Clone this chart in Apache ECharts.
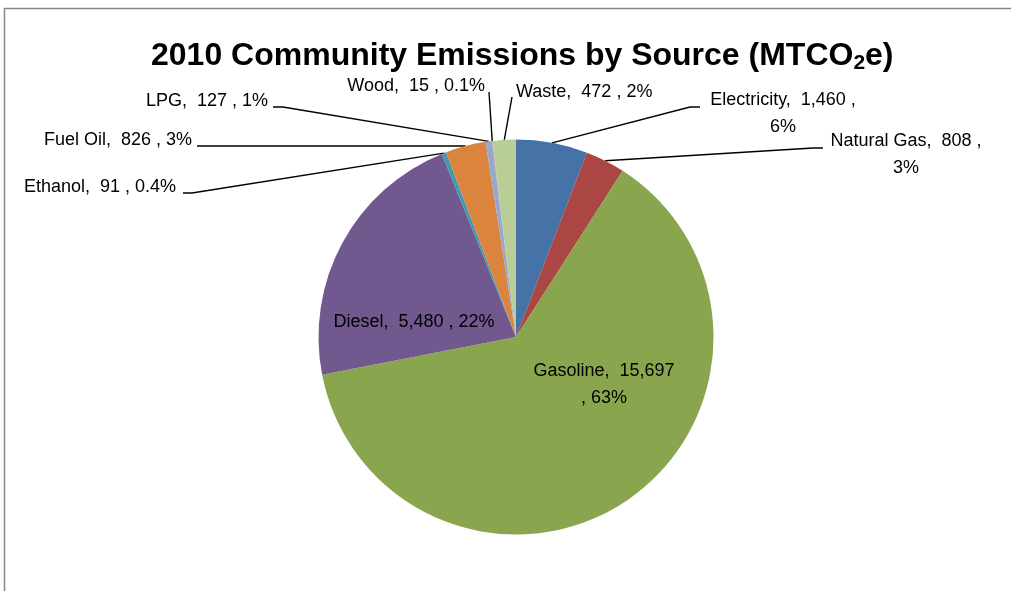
<!DOCTYPE html>
<html>
<head>
<meta charset="utf-8">
<script src="https://cdn.jsdelivr.net/npm/echarts@6/dist/echarts.min.js"></script>
<style>html,body{margin:0;padding:0;background:#fff}#c{width:1011px;height:591px}</style>
</head>
<body>
<div id="c"></div>
<script>
// ---- data ----
const categories = ['Electricity', 'Natural Gas', 'Gasoline', 'Diesel', 'Ethanol', 'Fuel Oil', 'LPG', 'Wood', 'Waste'];
const values = [1460, 808, 15697, 5480, 91, 826, 127, 15, 472];
const pctLabels = ['6%', '3%', '63%', '22%', '0.4%', '3%', '1%', '0.1%', '2%'];

// ---- styles / layout ----
const colors = ['#4572A7', '#AA4643', '#89A54E', '#71588F', '#4198AF', '#DB843D', '#93A9CF', '#D19392', '#B9CD96'];
const CX = 516, CY = 337, R = 197.5;
const FONT = 'Liberation Sans';
// label anchor [x, y, align], break mode, leader knee/end points
const labelPos = [
  [783, 114, 'center'], [906, 155, 'center'], [604, 385, 'center'], [414, 322, 'center'],
  [176, 187, 'right'], [192, 140, 'right'], [268, 101, 'right'], [485, 86, 'right'], [516, 92, 'left']
];
const breakMode = ['pct', 'pct', 'comma', '', '', '', '', '', ''];
const leader = [
  [[690, 107], [700, 107]],
  [[813, 148], [823, 148]],
  null, null,
  [[192, 193], [183, 193]],
  [[197, 146]],
  [[283, 107], [273, 107]],
  [[489, 92]],
  [[512, 97]]
];

function fmt(v) { return v.toLocaleString('en-US'); }
function labelText(i) {
  const name = categories[i], v = fmt(values[i]), p = pctLabels[i];
  if (breakMode[i] === 'pct') return name + ',  ' + v + ' ,\n' + p;
  if (breakMode[i] === 'comma') return name + ',  ' + v + '\n, ' + p;
  return name + ',  ' + v + ' , ' + p;
}
const total = values.reduce((a, b) => a + b, 0);
function edgePoint(i) {
  let before = 0;
  for (let k = 0; k < i; k++) before += values[k];
  const mid = (before + values[i] / 2) / total * 2 * Math.PI;
  return [CX + R * Math.sin(mid), CY - R * Math.cos(mid)];
}

const chart = echarts.init(document.getElementById('c'), null, { renderer: 'canvas' });
chart.setOption({
  animation: false,
  backgroundColor: '#fff',
  title: {
    text: '{a|2010 Community Emissions by Source (MTCO}{s|2}{a|e)}',
    left: 146,
    top: 33,
    textStyle: {
      rich: {
        a: { fontFamily: FONT, fontWeight: 'bold', fontSize: 32, color: '#000' },
        s: { fontFamily: FONT, fontWeight: 'bold', fontSize: 21, color: '#000', padding: [15, 0, 0, 0] }
      }
    }
  },
  graphic: [{
    type: 'rect', shape: { x: 4.5, y: 8.5, width: 1200, height: 800 },
    style: { fill: 'none', stroke: '#868686', lineWidth: 1.5 }, silent: true
  }],
  series: [{
    type: 'pie',
    center: [CX, CY],
    radius: R,
    startAngle: 90,
    clockwise: true,
    avoidLabelOverlap: false,
    label: {
      show: true,
      position: 'outside',
      color: '#000',
      fontFamily: FONT,
      fontSize: 18,
      lineHeight: 27,
      formatter: p => labelText(p.dataIndex)
    },
    labelLine: { show: true, lineStyle: { color: '#000', width: 1.4 } },
    labelLayout: function (params) {
      const i = params.dataIndex;
      const lp = labelPos[i];
      const out = { x: lp[0], y: lp[1], align: lp[2], verticalAlign: 'middle' };
      if (leader[i]) out.labelLinePoints = [edgePoint(i)].concat(leader[i]).concat(leader[i].length === 1 ? [leader[i][0]] : []);
      return out;
    },
    data: categories.map((c, i) => ({
      name: c,
      value: values[i],
      itemStyle: { color: colors[i] },
      labelLine: { show: !!leader[i] }
    })),
    itemStyle: { borderWidth: 0 },
    emphasis: { disabled: true }
  }]
});
</script>
</body>
</html>
